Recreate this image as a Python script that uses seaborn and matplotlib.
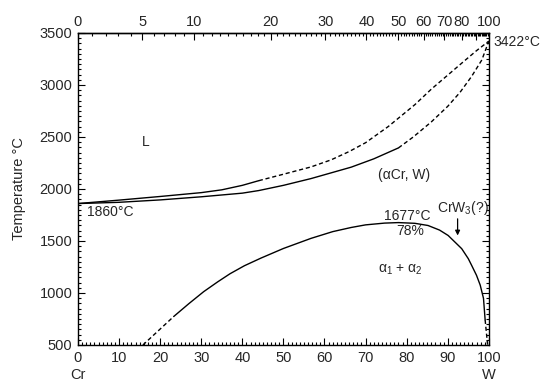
import numpy as np
import pandas as pd
import matplotlib
matplotlib.use("Agg")
import matplotlib.pyplot as plt
import seaborn as sns
from matplotlib.ticker import MultipleLocator, FixedLocator

sns.set_theme(style="ticks")
plt.rcParams['font.family'] = ['Liberation Sans', 'DejaVu Sans']
plt.rcParams['mathtext.fontset'] = 'custom'
plt.rcParams['mathtext.rm'] = 'Liberation Sans'
plt.rcParams['mathtext.it'] = 'Liberation Sans'

# ---- data (bottom axis: wt% W, temperature in deg C) ----
liq_solid_w = [0, 10, 20, 30, 35, 40, 44]
liq_solid_t = [1860, 1893, 1928, 1965, 1992, 2035, 2080]
liq_dash_w = [44, 50, 56.7, 61.6, 66, 70, 75.5, 82, 86, 90, 94, 97, 100]
liq_dash_t = [2080, 2142, 2212, 2280, 2360, 2445, 2600, 2811, 2960, 3095, 3230, 3330, 3422]
sol_solid_w = [0, 10, 20, 30, 40, 44, 50, 56.7, 60, 66.5, 72, 78]
sol_solid_t = [1860, 1872, 1895, 1925, 1960, 1985, 2035, 2100, 2137, 2210, 2290, 2395]
sol_dash_w = [78, 81.6, 86, 90, 93, 95.8, 98.3, 100]
sol_dash_t = [2395, 2500, 2645, 2795, 2930, 3082, 3241, 3422]
gap_left_w = [15.8, 23.3]
gap_left_t = [500, 774]
gap_solid_w = [23.3, 27, 30.6, 34, 37, 40.5, 44.5, 50, 56.7, 62, 66.5, 70, 74.6, 78, 82, 85.2, 88,
               90.1, 92, 93.4, 95, 95.8, 97, 97.9, 98.7, 99.1]
gap_solid_t = [774, 898, 1013, 1107, 1185, 1262, 1335, 1428, 1525, 1590, 1630, 1655, 1672, 1677, 1670,
               1649, 1605, 1553, 1480, 1426, 1330, 1267, 1170, 1076, 949, 742]
gap_right_w = [99.1, 99.7]
gap_right_t = [742, 500]

bottom_ticks = [0, 10, 20, 30, 40, 50, 60, 70, 80, 90, 100]
top_ticks = [0, 5, 10, 20, 30, 40, 50, 60, 70, 80, 90, 100]
top_labels = ['0', '5', '10', '20', '30', '40', '50', '60', '70', '80', '', '100']
y_ticks = [500, 1000, 1500, 2000, 2500, 3000, 3500]

M_W, M_CR = 183.84, 52.00


def wt_to_at(x):
    x = np.asarray(x, dtype=float)
    a = x / M_W
    b = (100 - x) / M_CR
    return 100 * a / (a + b)


def at_to_wt(y):
    y = np.asarray(y, dtype=float)
    a = y * M_W
    b = (100 - y) * M_CR
    return 100 * a / (a + b)


fig = plt.figure(figsize=(5.42, 3.9), dpi=100)
ax = fig.add_axes([0.1439, 0.1154, 0.758, 0.8])

segments = [
    (liq_solid_w, liq_solid_t, '-'),
    (liq_dash_w, liq_dash_t, (0, (3, 2))),
    (sol_solid_w, sol_solid_t, '-'),
    (sol_dash_w, sol_dash_t, (0, (3, 2))),
    (gap_left_w, gap_left_t, (0, (3, 2))),
    (gap_solid_w, gap_solid_t, '-'),
    (gap_right_w, gap_right_t, (0, (3, 2))),
]
for w, t, ls in segments:
    df = pd.DataFrame({'w': w, 't': t})
    sns.lineplot(data=df, x='w', y='t', ax=ax, sort=False, estimator=None,
                 color='black', linewidth=1.0, linestyle=ls)

ax.set_xlim(0, 100)
ax.set_ylim(500, 3500)
ax.set_xlabel('')
ax.set_ylabel('Temperature °C', fontsize=10.5, labelpad=10)

ax.xaxis.set_major_locator(FixedLocator(bottom_ticks))
ax.xaxis.set_minor_locator(MultipleLocator(1))
ax.yaxis.set_major_locator(FixedLocator(y_ticks))
ax.yaxis.set_minor_locator(MultipleLocator(50))
ax.tick_params(which='both', direction='in', left=True, bottom=True, right=True, top=False,
               labelsize=10.5, color='black', width=0.8)
ax.tick_params(which='major', length=5, pad=4)
ax.tick_params(which='minor', length=2.5)
for s in ax.spines.values():
    s.set_color('black')
    s.set_linewidth(1.0)

sec = ax.secondary_xaxis('top', functions=(wt_to_at, at_to_wt))
sec.xaxis.set_major_locator(FixedLocator(top_ticks))
sec.set_xticklabels(top_labels)
sec.xaxis.set_minor_locator(MultipleLocator(1))
sec.tick_params(which='both', direction='in', top=True, labelsize=10.5, color='black', width=0.8)
sec.tick_params(which='major', length=5, pad=3)
sec.tick_params(which='minor', length=2.5)
sec.spines['top'].set_linewidth(1.0)

fs = 10
xt = ax.get_xaxis_transform()
ax.text(0, -0.075, 'Cr', transform=xt, ha='center', va='top', fontsize=10.5)
ax.text(100, -0.075, 'W', transform=xt, ha='center', va='top', fontsize=10.5)
ax.text(16.4, 2448, 'L', ha='center', va='center', fontsize=fs)
ax.text(2.3, 1780, '1860°C', ha='left', va='center', fontsize=fs)
ax.text(101.2, 3413, '3422°C', ha='left', va='center', fontsize=fs, clip_on=False)
ax.text(79.3, 2133, '(αCr, W)', ha='center', va='center', fontsize=fs)
ax.text(80.1, 1703, '1677°C', ha='center', va='baseline', fontsize=fs)
ax.text(80.8, 1594, '78%', ha='center', va='center', fontsize=fs)
ax.text(78.5, 1221, 'α$_1$ + α$_2$', ha='center', va='center', fontsize=fs)
ax.text(93.6, 1780, 'CrW$_3$(?)', ha='center', va='baseline', fontsize=fs)
ax.annotate('', xy=(92.4, 1553), xytext=(92.4, 1713),
            arrowprops=dict(arrowstyle='-|>', color='black', lw=0.9,
                            mutation_scale=7, shrinkA=0, shrinkB=0))

fig.savefig('out.png', dpi=100)
